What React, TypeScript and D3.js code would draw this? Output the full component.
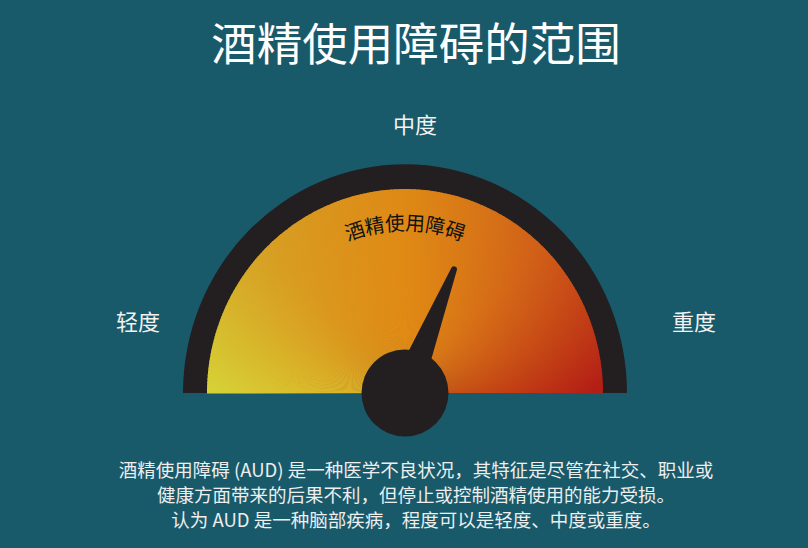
import React, { useEffect, useRef } from "react";
import * as d3 from "d3";

// chart text + values
const title = "酒精使用障碍的范围";
const levelLabels = ["轻度", "中度", "重度"];
const arcLabel = "酒精使用障碍";
const needleValue = 0.62; // fraction of the dial, 0 = 轻度, 1 = 重度
const colorStops = [0, 0.25, 0.5, 0.75, 1];
const colorValues = ["#d6d236", "#d4a326", "#dc8916", "#cc5519", "#b31d15"];
const descLines = [
  "酒精使用障碍 (AUD) 是一种医学不良状况，其特征是尽管在社交、职业或",
  "健康方面带来的后果不利，但停止或控制酒精使用的能力受损。",
  "认为 AUD 是一种脑部疾病，程度可以是轻度、中度或重度。",
];

const W = 808;
const H = 548;

export default function App() {
  const svgRef = useRef<SVGSVGElement | null>(null);

  useEffect(() => {
    if (!svgRef.current) return;
    const svg = d3.select(svgRef.current);
    svg.selectAll("*").remove();

    const cx = 405;
    const cy = 393;
    const rOuter = 222;
    const rInner = 198;
    const yStretch = 1.03;
    const font = "'Noto Sans CJK SC', 'Noto Sans', sans-serif";

    svg.append("rect").attr("width", W).attr("height", H).attr("fill", "#195a6a");

    const defs = svg.append("defs");
    const rad = defs.append("radialGradient")
      .attr("id", "glow")
      .attr("gradientUnits", "userSpaceOnUse")
      .attr("cx", 0).attr("cy", -60).attr("r", rInner);
    rad.append("stop").attr("offset", "0%").attr("stop-color", "#e38b14").attr("stop-opacity", 0.75);
    rad.append("stop").attr("offset", "100%").attr("stop-color", "#e38b14").attr("stop-opacity", 0);

    // angle scale for the dial
    const angle = d3.scaleLinear().domain([0, 1]).range([-Math.PI / 2, Math.PI / 2]);
    const color = d3.scaleLinear<string>().domain(colorStops).range(colorValues).interpolate(d3.interpolateRgb);

    const g = svg.append("g").attr("transform", `translate(${cx},${cy}) scale(1,${yStretch})`);

    // black rim
    g.append("path")
      .attr("d", d3.arc()({ innerRadius: rInner - 1, outerRadius: rOuter, startAngle: angle(0), endAngle: angle(1) }) as string)
      .attr("fill", "#231f20");

    // conic-ish fill built from thin wedges
    const steps = d3.range(0, 1, 1 / 180);
    const wedge = d3.arc<number>()
      .innerRadius(0)
      .outerRadius(rInner)
      .startAngle(d => angle(d) - 0.003)
      .endAngle(d => angle(d + 1 / 180) + 0.003);
    g.selectAll("path.wedge")
      .data(steps)
      .join("path")
      .attr("class", "wedge")
      .attr("d", d => wedge(d) as string)
      .attr("fill", d => color(d + 1 / 360));

    g.append("path")
      .attr("d", d3.arc()({ innerRadius: 0, outerRadius: rInner, startAngle: angle(0), endAngle: angle(1) }) as string)
      .attr("fill", "url(#glow)");

    // curved label
    const rText = 158;
    const span = 0.5;
    const textArc = d3.path();
    textArc.arc(0, 0, rText, -Math.PI / 2 - span, -Math.PI / 2 + span);
    g.append("path").attr("id", "labelArc").attr("d", textArc.toString()).attr("fill", "none");
    g.append("text")
      .attr("font-family", font)
      .attr("font-size", 19.5)
      .attr("fill", "#111")
      .append("textPath")
      .attr("href", "#labelArc")
      .attr("startOffset", "50%")
      .attr("text-anchor", "middle")
      .text(arcLabel);

    // needle
    const a = angle(needleValue);
    const len = 133;
    const tip = [Math.sin(a) * len, -Math.cos(a) * len];
    const px = Math.cos(a), py = Math.sin(a);
    const baseW = 16, tipW = 3;
    const needle = d3.path();
    needle.moveTo(px * baseW, py * baseW);
    needle.lineTo(tip[0] + px * tipW, tip[1] + py * tipW);
    needle.arc(tip[0], tip[1], tipW, a, a - Math.PI, true);
    needle.lineTo(-px * baseW, -py * baseW);
    needle.closePath();
    const ng = svg.append("g").attr("transform", `translate(${cx},${cy})`);
    ng.append("path").attr("d", needle.toString()).attr("fill", "#231f20");
    ng.append("circle").attr("r", 43.5).attr("fill", "#231f20");

    // labels
    svg.append("text")
      .attr("x", 416).attr("y", 61)
      .attr("text-anchor", "middle")
      .attr("font-family", font)
      .attr("font-size", 45.5)
      .attr("fill", "#ffffff")
      .text(title);

    const labelPos = [[138, 330], [415, 133], [694, 330]];
    svg.selectAll("text.level")
      .data(levelLabels)
      .join("text")
      .attr("class", "level")
      .attr("x", (d, i) => labelPos[i][0])
      .attr("y", (d, i) => labelPos[i][1])
      .attr("text-anchor", "middle")
      .attr("font-family", font)
      .attr("font-size", 22)
      .attr("fill", "#f2f2f2")
      .text(d => d);

    svg.selectAll("text.desc")
      .data(descLines)
      .join("text")
      .attr("class", "desc")
      .attr("x", 416)
      .attr("y", (d, i) => 477 + i * 25)
      .attr("text-anchor", "middle")
      .attr("font-family", font)
      .attr("font-size", 18.5)
      .attr("fill", "#eeeeee")
      .text(d => d);
  }, []);

  return (
    <svg ref={svgRef} width={W} height={H}
      style={{ position: "absolute", left: 0, top: 0, display: "block" }} />
  );
}
